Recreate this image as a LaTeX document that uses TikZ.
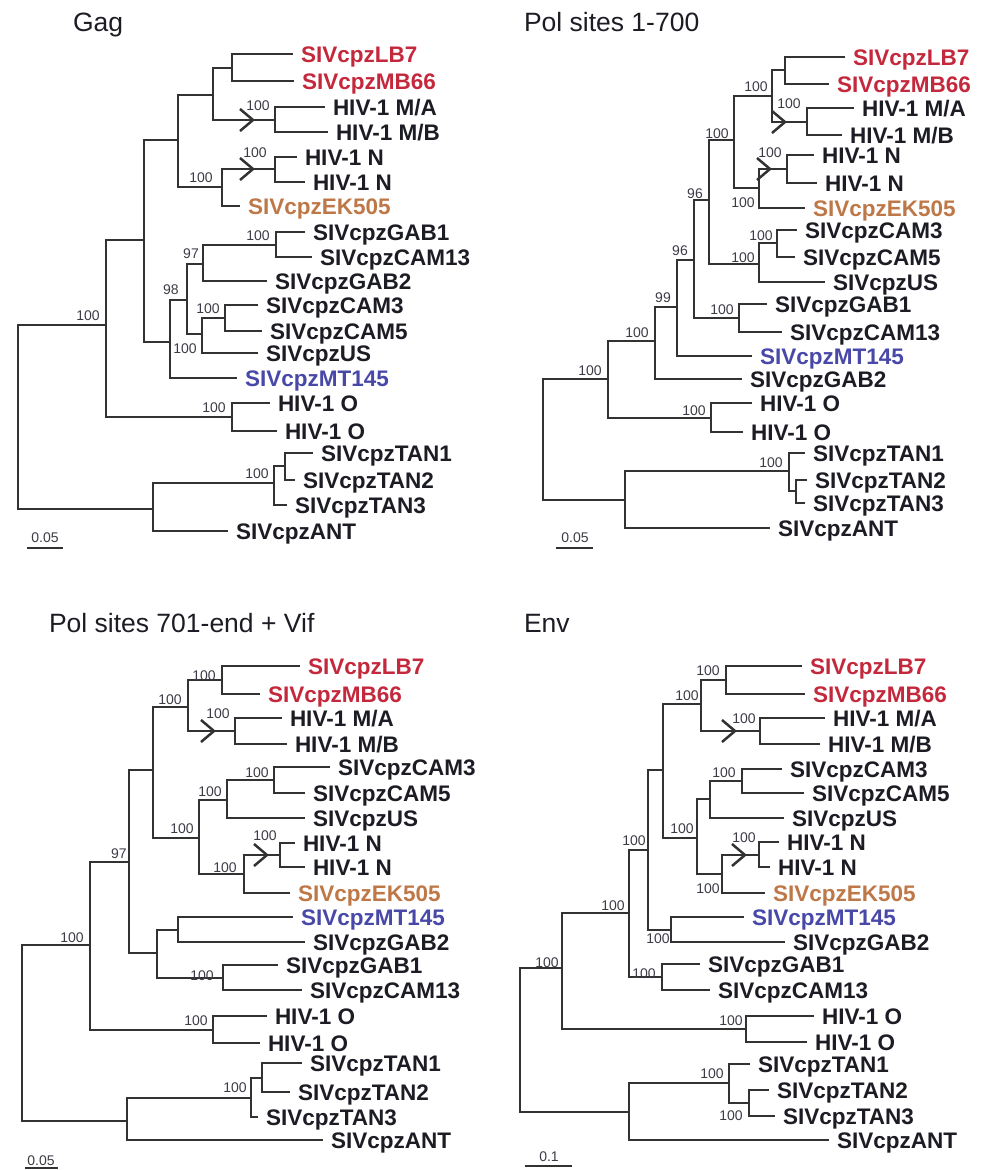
\documentclass[tikz,border=0pt]{standalone}
\usepackage{fontspec}
\setmainfont{Liberation Sans}
\definecolor{linec}{RGB}{50,50,50}
\definecolor{labc}{RGB}{28,28,36}
\definecolor{redc}{RGB}{196,40,60}
\definecolor{orgc}{RGB}{190,120,72}
\definecolor{bluc}{RGB}{72,72,168}
\definecolor{supc}{RGB}{60,60,70}
\tikzset{
  br/.style={draw=linec, line width=2.7pt},
  chv/.style={draw=linec, line width=2.5pt},
  sbar/.style={draw=linec, line width=2.2pt},
  lf/.style={anchor=west, inner xsep=8pt, inner ysep=0pt, outer sep=0pt, text height=16pt, text depth=0pt, font=\fontsize{22.5}{24}\selectfont\bfseries, text=labc},
  lfr/.style={lf, text=redc},
  lfo/.style={lf, text=orgc},
  lfb/.style={lf, text=bluc},
  sv/.style={inner sep=0pt, outer sep=0pt, text height=10pt, text depth=0pt, font=\fontsize{14}{15}\selectfont, text=supc},
  ttl/.style={anchor=west, inner sep=0pt, outer sep=0pt, text height=19pt, text depth=0pt, font=\fontsize{26.5}{28}\selectfont, text=labc},
}
\begin{document}
\begin{tikzpicture}[x=1pt,y=-1pt]
\useasboundingbox (0,0) rectangle (984,1170);

%%%%%%%%%%%%%%%% Tree A: Gag
\node[ttl] (a-title) at (73,22) {Gag};
\node[lfr] (a-lb7) at (293,54) {SIVcpzLB7};
\node[lfr] (a-mb66) at (294,81) {SIVcpzMB66};
\node[lf] (a-ma) at (325,107) {HIV-1 M/A};
\node[lf] (a-mb) at (328,132) {HIV-1 M/B};
\node[lf] (a-n1) at (297,157) {HIV-1 N};
\node[lf] (a-n2) at (305,182) {HIV-1 N};
\node[lfo] (a-ek) at (240,206) {SIVcpzEK505};
\node[lf] (a-gab1) at (305,232) {SIVcpzGAB1};
\node[lf] (a-cam13) at (312,257) {SIVcpzCAM13};
\node[lf] (a-gab2) at (267,281) {SIVcpzGAB2};
\node[lf] (a-cam3) at (258,305) {SIVcpzCAM3};
\node[lf] (a-cam5) at (262,331) {SIVcpzCAM5};
\node[lf] (a-us) at (258,353) {SIVcpzUS};
\node[lfb] (a-mt) at (237,378) {SIVcpzMT145};
\node[lf] (a-o1) at (270,403) {HIV-1 O};
\node[lf] (a-o2) at (277,431) {HIV-1 O};
\node[lf] (a-t1) at (313,453) {SIVcpzTAN1};
\node[lf] (a-t2) at (295,480) {SIVcpzTAN2};
\node[lf] (a-t3) at (287,505) {SIVcpzTAN3};
\node[lf] (a-ant) at (228,531) {SIVcpzANT};
\coordinate (a-lm) at (232,68);
\coordinate (a-m) at (275,120);
\coordinate (a-lmm) at (213,95);
\coordinate (a-n) at (275,169);
\coordinate (a-ne) at (222,187);
\coordinate (a-a) at (178,140);
\coordinate (a-gc) at (276,245);
\coordinate (a-gcg) at (203,264);
\coordinate (a-cc) at (225,318);
\coordinate (a-ccu) at (202,334);
\coordinate (a-b) at (187,300);
\coordinate (a-bm) at (170,342);
\coordinate (a-c) at (144,240);
\coordinate (a-o) at (232,417);
\coordinate (a-d) at (106,325);
\coordinate (a-t12) at (285,466);
\coordinate (a-t) at (274,483);
\coordinate (a-ta) at (153,509);
\coordinate (a-root) at (18,420);
\foreach \p/\c in {a-lm/a-lb7,a-lm/a-mb66,a-m/a-ma,a-m/a-mb,a-lmm/a-lm,a-lmm/a-m,
  a-n/a-n1,a-n/a-n2,a-ne/a-n,a-ne/a-ek,a-a/a-lmm,a-a/a-ne,a-gc/a-gab1,a-gc/a-cam13,
  a-gcg/a-gc,a-gcg/a-gab2,a-cc/a-cam3,a-cc/a-cam5,a-ccu/a-cc,a-ccu/a-us,a-b/a-gcg,a-b/a-ccu,
  a-bm/a-b,a-bm/a-mt,a-c/a-a,a-c/a-bm,a-o/a-o1,a-o/a-o2,a-d/a-c,a-d/a-o,
  a-t12/a-t1,a-t12/a-t2,a-t/a-t12,a-t/a-t3,a-ta/a-t,a-ta/a-ant,a-root/a-d,a-root/a-ta}
  \draw[br] (\p) |- (\c);
\coordinate (a-cm) at (253,120);
\coordinate (a-cn) at (253,169);
\foreach \k in {a-cm,a-cn}
  \draw[chv] ([shift={(-13,-11)}]\k) -- (\k) -- ([shift={(-13,11)}]\k);
\foreach \x/\y/\t [count=\i] in {258/105/100,255/152/100,201/177/100,258/235/100,191/253/97,
  171/289/98,208/308/100,185/348/100,88/315/100,214/407/100,257/473/100}
  \node[sv] (a-s\i) at (\x,\y) {\t};
\node[sv] (a-sc) at (45,537) {0.05};
\coordinate (a-sb1) at (27,548);
\coordinate (a-sb2) at (63,548);
\draw[sbar] (a-sb1) -- (a-sb2);

%%%%%%%%%%%%%%%% Tree B: Pol sites 1-700
\node[ttl] (b-title) at (524,22) {Pol sites 1-700};
\node[lfr] (b-lb7) at (845,57) {SIVcpzLB7};
\node[lfr] (b-mb66) at (829,84) {SIVcpzMB66};
\node[lf] (b-ma) at (854,108) {HIV-1 M/A};
\node[lf] (b-mb) at (842,135) {HIV-1 M/B};
\node[lf] (b-n1) at (814,155) {HIV-1 N};
\node[lf] (b-n2) at (817,183) {HIV-1 N};
\node[lfo] (b-ek) at (805,208) {SIVcpzEK505};
\node[lf] (b-cam3) at (797,230) {SIVcpzCAM3};
\node[lf] (b-cam5) at (795,257) {SIVcpzCAM5};
\node[lf] (b-us) at (825,282) {SIVcpzUS};
\node[lf] (b-gab1) at (767,304) {SIVcpzGAB1};
\node[lf] (b-cam13) at (782,332) {SIVcpzCAM13};
\node[lfb] (b-mt) at (752,356) {SIVcpzMT145};
\node[lf] (b-gab2) at (742,379) {SIVcpzGAB2};
\node[lf] (b-o1) at (752,403) {HIV-1 O};
\node[lf] (b-o2) at (743,432) {HIV-1 O};
\node[lf] (b-t1) at (805,453) {SIVcpzTAN1};
\node[lf] (b-t2) at (807,480) {SIVcpzTAN2};
\node[lf] (b-t3) at (805,503) {SIVcpzTAN3};
\node[lf] (b-ant) at (770,528) {SIVcpzANT};
\coordinate (b-lm) at (785,70);
\coordinate (b-m) at (807,122);
\coordinate (b-lmm) at (772,96);
\coordinate (b-n) at (787,169);
\coordinate (b-ne) at (759,188);
\coordinate (b-a) at (734,140);
\coordinate (b-cc) at (777,243);
\coordinate (b-ccu) at (759,264);
\coordinate (b-e) at (709,200);
\coordinate (b-gc) at (739,318);
\coordinate (b-f) at (694,260);
\coordinate (b-g) at (677,307);
\coordinate (b-h) at (655,341);
\coordinate (b-o) at (711,418);
\coordinate (b-i) at (608,379);
\coordinate (b-t23) at (796,491);
\coordinate (b-t) at (789,471);
\coordinate (b-ta) at (625,500);
\coordinate (b-root) at (543,440);
\foreach \p/\c in {b-lm/b-lb7,b-lm/b-mb66,b-m/b-ma,b-m/b-mb,b-lmm/b-lm,b-lmm/b-m,
  b-n/b-n1,b-n/b-n2,b-ne/b-n,b-ne/b-ek,b-a/b-lmm,b-a/b-ne,b-cc/b-cam3,b-cc/b-cam5,
  b-ccu/b-cc,b-ccu/b-us,b-e/b-a,b-e/b-ccu,b-gc/b-gab1,b-gc/b-cam13,b-f/b-e,b-f/b-gc,
  b-g/b-f,b-g/b-mt,b-h/b-g,b-h/b-gab2,b-o/b-o1,b-o/b-o2,b-i/b-h,b-i/b-o,
  b-t23/b-t2,b-t23/b-t3,b-t/b-t1,b-t/b-t23,b-ta/b-t,b-ta/b-ant,b-root/b-i,b-root/b-ta}
  \draw[br] (\p) |- (\c);
\coordinate (b-cm) at (785,122);
\coordinate (b-cn) at (770,169);
\foreach \k in {b-cm,b-cn}
  \draw[chv] ([shift={(-13,-11)}]\k) -- (\k) -- ([shift={(-13,11)}]\k);
\foreach \x/\y/\t [count=\i] in {756/86/100,789/103/100,770/152/100,743/202/100,717/133/100,
  761/235/100,743/257/100,695/193/96,680/250/96,663/297/99,722/309/100,637/332/100,
  694/410/100,590/370/100,771/462/100}
  \node[sv] (b-s\i) at (\x,\y) {\t};
\node[sv] (b-sc) at (575,537) {0.05};
\coordinate (b-sb1) at (556,548);
\coordinate (b-sb2) at (593,548);
\draw[sbar] (b-sb1) -- (b-sb2);

%%%%%%%%%%%%%%%% Tree C: Pol sites 701-end + Vif
\node[ttl] (c-title) at (49,623) {Pol sites 701-end + Vif};
\node[lfr] (c-lb7) at (300,666) {SIVcpzLB7};
\node[lfr] (c-mb66) at (260,694) {SIVcpzMB66};
\node[lf] (c-ma) at (282,718) {HIV-1 M/A};
\node[lf] (c-mb) at (287,744) {HIV-1 M/B};
\node[lf] (c-cam3) at (330,767) {SIVcpzCAM3};
\node[lf] (c-cam5) at (305,793) {SIVcpzCAM5};
\node[lf] (c-us) at (305,818) {SIVcpzUS};
\node[lf] (c-n1) at (295,843) {HIV-1 N};
\node[lf] (c-n2) at (305,867) {HIV-1 N};
\node[lfo] (c-ek) at (290,893) {SIVcpzEK505};
\node[lfb] (c-mt) at (293,917) {SIVcpzMT145};
\node[lf] (c-gab2) at (305,942) {SIVcpzGAB2};
\node[lf] (c-gab1) at (278,965) {SIVcpzGAB1};
\node[lf] (c-cam13) at (302,990) {SIVcpzCAM13};
\node[lf] (c-o1) at (267,1016) {HIV-1 O};
\node[lf] (c-o2) at (260,1043) {HIV-1 O};
\node[lf] (c-t1) at (302,1063) {SIVcpzTAN1};
\node[lf] (c-t2) at (290,1092) {SIVcpzTAN2};
\node[lf] (c-t3) at (258,1117) {SIVcpzTAN3};
\node[lf] (c-ant) at (323,1140) {SIVcpzANT};
\coordinate (c-lm) at (222,680);
\coordinate (c-m) at (235,731);
\coordinate (c-lmm) at (188,707);
\coordinate (c-cc) at (274,780);
\coordinate (c-ccu) at (227,800);
\coordinate (c-n) at (280,855);
\coordinate (c-ne) at (244,874);
\coordinate (c-x) at (199,838);
\coordinate (c-a) at (153,770);
\coordinate (c-mg) at (178,930);
\coordinate (c-gc) at (223,978);
\coordinate (c-b) at (157,953);
\coordinate (c-c) at (129,862);
\coordinate (c-o) at (213,1030);
\coordinate (c-d) at (90,945);
\coordinate (c-t12) at (262,1078);
\coordinate (c-t) at (251,1098);
\coordinate (c-ta) at (127,1121);
\coordinate (c-root) at (22,1030);
\foreach \p/\c in {c-lm/c-lb7,c-lm/c-mb66,c-m/c-ma,c-m/c-mb,c-lmm/c-lm,c-lmm/c-m,
  c-cc/c-cam3,c-cc/c-cam5,c-ccu/c-cc,c-ccu/c-us,c-n/c-n1,c-n/c-n2,c-ne/c-n,c-ne/c-ek,
  c-x/c-ccu,c-x/c-ne,c-a/c-lmm,c-a/c-x,c-mg/c-mt,c-mg/c-gab2,c-gc/c-gab1,c-gc/c-cam13,
  c-b/c-mg,c-b/c-gc,c-c/c-a,c-c/c-b,c-o/c-o1,c-o/c-o2,c-d/c-c,c-d/c-o,
  c-t12/c-t1,c-t12/c-t2,c-t/c-t12,c-t/c-t3,c-ta/c-t,c-ta/c-ant,c-root/c-d,c-root/c-ta}
  \draw[br] (\p) |- (\c);
\coordinate (c-cm) at (214,731);
\coordinate (c-cn) at (267,855);
\foreach \k in {c-cm,c-cn}
  \draw[chv] ([shift={(-13,-11)}]\k) -- (\k) -- ([shift={(-13,11)}]\k);
\foreach \x/\y/\t [count=\i] in {204/675/100,218/713/100,170/699/100,257/772/100,210/791/100,
  182/828/100,265/835/100,225/867/100,202/975/100,119/853/97,72/937/100,196/1020/100,
  235/1087/100}
  \node[sv] (c-s\i) at (\x,\y) {\t};
\node[sv] (c-sc) at (41,1160) {0.05};
\coordinate (c-sb1) at (25,1168);
\coordinate (c-sb2) at (58,1168);
\draw[sbar] (c-sb1) -- (c-sb2);

%%%%%%%%%%%%%%%% Tree D: Env
\node[ttl] (d-title) at (524,623) {Env};
\node[lfr] (d-lb7) at (802,666) {SIVcpzLB7};
\node[lfr] (d-mb66) at (805,694) {SIVcpzMB66};
\node[lf] (d-ma) at (825,718) {HIV-1 M/A};
\node[lf] (d-mb) at (820,744) {HIV-1 M/B};
\node[lf] (d-cam3) at (782,769) {SIVcpzCAM3};
\node[lf] (d-cam5) at (804,793) {SIVcpzCAM5};
\node[lf] (d-us) at (784,818) {SIVcpzUS};
\node[lf] (d-n1) at (779,842) {HIV-1 N};
\node[lf] (d-n2) at (770,867) {HIV-1 N};
\node[lfo] (d-ek) at (765,893) {SIVcpzEK505};
\node[lfb] (d-mt) at (744,917) {SIVcpzMT145};
\node[lf] (d-gab2) at (785,942) {SIVcpzGAB2};
\node[lf] (d-gab1) at (700,964) {SIVcpzGAB1};
\node[lf] (d-cam13) at (710,990) {SIVcpzCAM13};
\node[lf] (d-o1) at (814,1016) {HIV-1 O};
\node[lf] (d-o2) at (807,1042) {HIV-1 O};
\node[lf] (d-t1) at (750,1064) {SIVcpzTAN1};
\node[lf] (d-t2) at (769,1090) {SIVcpzTAN2};
\node[lf] (d-t3) at (775,1116) {SIVcpzTAN3};
\node[lf] (d-ant) at (829,1140) {SIVcpzANT};
\coordinate (d-lm) at (726,680);
\coordinate (d-m) at (760,731);
\coordinate (d-lmm) at (701,704);
\coordinate (d-cc) at (742,781);
\coordinate (d-ccu) at (710,799);
\coordinate (d-n) at (759,855);
\coordinate (d-ne) at (722,874);
\coordinate (d-x) at (697,838);
\coordinate (d-a) at (663,770);
\coordinate (d-mg) at (671,930);
\coordinate (d-q) at (648,850);
\coordinate (d-gc) at (662,977);
\coordinate (d-p) at (629,913);
\coordinate (d-o) at (746,1029);
\coordinate (d-r) at (562,968);
\coordinate (d-t23) at (749,1103);
\coordinate (d-t) at (729,1083);
\coordinate (d-ta) at (629,1112);
\coordinate (d-root) at (520,1040);
\foreach \p/\c in {d-lm/d-lb7,d-lm/d-mb66,d-m/d-ma,d-m/d-mb,d-lmm/d-lm,d-lmm/d-m,
  d-cc/d-cam3,d-cc/d-cam5,d-ccu/d-cc,d-ccu/d-us,d-n/d-n1,d-n/d-n2,d-ne/d-n,d-ne/d-ek,
  d-x/d-ccu,d-x/d-ne,d-a/d-lmm,d-a/d-x,d-mg/d-mt,d-mg/d-gab2,d-q/d-a,d-q/d-mg,
  d-gc/d-gab1,d-gc/d-cam13,d-p/d-q,d-p/d-gc,d-o/d-o1,d-o/d-o2,d-r/d-p,d-r/d-o,
  d-t23/d-t2,d-t23/d-t3,d-t/d-t1,d-t/d-t23,d-ta/d-t,d-ta/d-ant,d-root/d-r,d-root/d-ta}
  \draw[br] (\p) |- (\c);
\coordinate (d-cm) at (735,731);
\coordinate (d-cn) at (745,855);
\foreach \k in {d-cm,d-cn}
  \draw[chv] ([shift={(-13,-11)}]\k) -- (\k) -- ([shift={(-13,11)}]\k);
\foreach \x/\y/\t [count=\i] in {708/670/100,687/695/100,744/718/100,724/772/100,682/828/100,
  744/837/100,708/888/100,634/840/100,658/938/100,644/973/100,613/905/100,547/962/100,
  731/1020/100,712/1073/100,731/1115/100}
  \node[sv] (d-s\i) at (\x,\y) {\t};
\node[sv] (d-sc) at (549,1156) {0.1};
\coordinate (d-sb1) at (525,1166);
\coordinate (d-sb2) at (572,1166);
\draw[sbar] (d-sb1) -- (d-sb2);
\end{tikzpicture}
\end{document}
